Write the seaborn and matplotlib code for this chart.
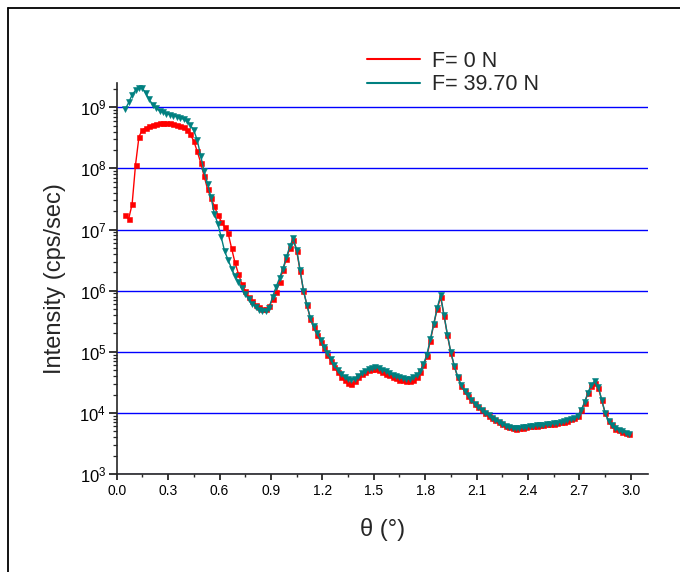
import matplotlib
matplotlib.use("Agg")
import matplotlib.pyplot as plt
from matplotlib.lines import Line2D
from matplotlib.ticker import LogLocator, MultipleLocator, FormatStrFormatter, NullFormatter
import pandas as pd
import seaborn as sns

# Scattering angle (degrees)
theta = [
    0.05, 0.07, 0.09, 0.11, 0.13, 0.15, 0.17, 0.19, 0.21, 0.23,
    0.25, 0.27, 0.29, 0.31, 0.33, 0.35, 0.37, 0.39, 0.41, 0.43,
    0.45, 0.47, 0.49, 0.51, 0.53, 0.55, 0.57, 0.59, 0.61, 0.63,
    0.65, 0.67, 0.69, 0.71, 0.73, 0.75, 0.77, 0.79, 0.81, 0.83,
    0.85, 0.87, 0.89, 0.91, 0.93, 0.95, 0.97, 0.99, 1.01, 1.03,
    1.05, 1.07, 1.09, 1.11, 1.13, 1.15, 1.17, 1.19, 1.21, 1.23,
    1.25, 1.27, 1.29, 1.31, 1.33, 1.35, 1.37, 1.39, 1.41, 1.43,
    1.45, 1.47, 1.49, 1.51, 1.53, 1.55, 1.57, 1.59, 1.61, 1.63,
    1.65, 1.67, 1.69, 1.71, 1.73, 1.75, 1.77, 1.79, 1.81, 1.83,
    1.85, 1.87, 1.89, 1.91, 1.93, 1.95, 1.97, 1.99, 2.01, 2.03,
    2.05, 2.07, 2.09, 2.11, 2.13, 2.15, 2.17, 2.19, 2.21, 2.23,
    2.25, 2.27, 2.29, 2.31, 2.33, 2.35, 2.37, 2.39, 2.41, 2.43,
    2.45, 2.47, 2.49, 2.51, 2.53, 2.55, 2.57, 2.59, 2.61, 2.63,
    2.65, 2.67, 2.69, 2.71, 2.73, 2.75, 2.77, 2.79, 2.81, 2.83,
    2.85, 2.87, 2.89, 2.91, 2.93, 2.95, 2.97, 2.99,
]

# Reflected intensity without load (cps/sec)
intensity_0N = [
    1.7e7, 1.5e7, 2.6e7, 1.15e8, 3.3e8, 4.3e8, 4.6e8, 4.9e8, 5.2e8, 5.4e8,
    5.5e8, 5.6e8, 5.55e8, 5.5e8, 5.35e8, 5.2e8, 5.0e8, 4.7e8, 4.2e8, 3.6e8,
    2.8e8, 1.9e8, 1.25e8, 7.5e7, 4.6e7, 3.3e7, 2.4e7, 1.75e7, 1.35e7, 1.1e7,
    8.8e6, 5.0e6, 2.9e6, 1.9e6, 1.3e6, 1.0e6, 7.8e5, 6.7e5, 5.9e5, 5.4e5,
    5.1e5, 5.0e5, 5.6e5, 7.2e5, 9.5e5, 1.4e6, 2.2e6, 3.3e6, 5.0e6, 6.8e6,
    4.5e6, 2.1e6, 1.0e6, 5.8e5, 3.5e5, 2.5e5, 1.9e5, 1.45e5, 1.15e5, 9.0e4,
    7.0e4, 5.6e4, 4.6e4, 3.9e4, 3.4e4, 3.1e4, 3.0e4, 3.3e4, 3.8e4, 4.3e4,
    4.7e4, 5.0e4, 5.2e4, 5.2e4, 5.0e4, 4.7e4, 4.4e4, 4.1e4, 3.9e4, 3.7e4,
    3.5e4, 3.4e4, 3.3e4, 3.3e4, 3.5e4, 3.9e4, 4.6e4, 6.0e4, 8.5e4, 1.5e5,
    2.8e5, 5.0e5, 7.8e5, 3.9e5, 1.85e5, 9.5e4, 5.8e4, 3.8e4, 2.8e4, 2.25e4,
    1.9e4, 1.62e4, 1.4e4, 1.25e4, 1.12e4, 1.0e4, 9.0e3, 8.4e3, 7.7e3, 7.1e3,
    6.6e3, 6.2e3, 5.9e3, 5.7e3, 5.55e3, 5.6e3, 5.75e3, 5.9e3, 6.0e3, 6.1e3,
    6.2e3, 6.3e3, 6.4e3, 6.5e3, 6.6e3, 6.7e3, 6.85e3, 7.0e3, 7.2e3, 7.5e3,
    7.9e3, 8.3e3, 8.9e3, 1.1e4, 1.45e4, 2.1e4, 2.8e4, 3.1e4, 2.6e4, 1.6e4,
    1.0e4, 7.4e3, 6.3e3, 5.5e3, 5.2e3, 4.95e3, 4.7e3, 4.5e3,
]

# Reflected intensity under 39.70 N load (cps/sec)
intensity_39N = [
    9.3e8, 1.2e9, 1.6e9, 1.9e9, 2.1e9, 2.05e9, 1.7e9, 1.35e9, 1.1e9, 9.6e8,
    8.8e8, 8.3e8, 7.9e8, 7.6e8, 7.3e8, 7.0e8, 6.7e8, 6.4e8, 5.9e8, 5.1e8,
    4.2e8, 2.9e8, 1.6e8, 9.0e7, 5.6e7, 3.4e7, 1.8e7, 1.25e7, 7.5e6, 4.4e6,
    3.2e6, 2.3e6, 1.75e6, 1.4e6, 1.1e6, 8.8e5, 7.3e5, 6.1e5, 5.4e5, 4.9e5,
    4.7e5, 4.7e5, 5.3e5, 8.0e5, 1.15e6, 1.6e6, 2.3e6, 3.5e6, 5.3e6, 7.2e6,
    4.7e6, 2.2e6, 1.0e6, 5.8e5, 3.6e5, 2.6e5, 2.0e5, 1.55e5, 1.2e5, 9.5e4,
    7.5e4, 6.0e4, 5.0e4, 4.3e4, 3.8e4, 3.6e4, 3.5e4, 3.6e4, 4.0e4, 4.5e4,
    4.9e4, 5.3e4, 5.5e4, 5.6e4, 5.4e4, 5.1e4, 4.8e4, 4.5e4, 4.2e4, 4.0e4,
    3.8e4, 3.7e4, 3.6e4, 3.6e4, 3.8e4, 4.1e4, 4.8e4, 6.3e4, 9.0e4, 1.6e5,
    2.9e5, 5.2e5, 8.4e5, 4.0e5, 1.9e5, 9.8e4, 5.9e4, 3.9e4, 2.9e4, 2.3e4,
    1.95e4, 1.65e4, 1.42e4, 1.26e4, 1.13e4, 1.01e4, 9.1e3, 8.4e3, 7.7e3, 7.1e3,
    6.6e3, 6.2e3, 5.9e3, 5.7e3, 5.6e3, 5.65e3, 5.8e3, 5.95e3, 6.05e3, 6.15e3,
    6.25e3, 6.35e3, 6.45e3, 6.55e3, 6.65e3, 6.75e3, 6.9e3, 7.05e3, 7.3e3, 7.6e3,
    8.0e3, 8.4e3, 9.0e3, 1.1e4, 1.5e4, 2.15e4, 2.9e4, 3.3e4, 2.7e4, 1.65e4,
    1.0e4, 7.5e3, 6.3e3, 5.6e3, 5.25e3, 5.0e3, 4.75e3, 4.55e3,
]

series_labels = ["F= 0 N", "F= 39.70 N"]
series_colors = ["#FF0000", "#008080"]
series_markers = ["s", "v"]
series_msizes = [3.6, 5.0]

sns.set_style("ticks")
plt.rcParams["font.family"] = ["Liberation Sans", "DejaVu Sans"]
plt.rcParams["mathtext.fontset"] = "custom"
plt.rcParams["mathtext.rm"] = "Liberation Sans"
plt.rcParams["mathtext.it"] = "Liberation Sans:italic"
plt.rcParams["axes.linewidth"] = 1.2

fig = plt.figure(figsize=(6.8, 5.72), dpi=100)
ax = fig.add_axes([0.1716, 0.1713, 0.7813, 0.6836])
ax.set_yscale("log")

for label, values, color, marker, ms in zip(
    series_labels, [intensity_0N, intensity_39N],
    series_colors, series_markers, series_msizes,
):
    frame = pd.DataFrame({"theta": theta, "intensity": values})
    sns.lineplot(
        data=frame, x="theta", y="intensity", ax=ax,
        color=color, linewidth=1.0, marker=marker, markersize=ms,
        markeredgewidth=0.4, markeredgecolor=color,
        estimator=None, errorbar=None, legend=False,
    )

ax.set_xlim(0.0, 3.1)
ax.set_ylim(1e3, 2.5e9)

ax.xaxis.set_major_locator(MultipleLocator(0.3))
ax.xaxis.set_minor_locator(MultipleLocator(0.15))
ax.xaxis.set_major_formatter(FormatStrFormatter("%.1f"))
ax.yaxis.set_major_locator(LogLocator(base=10, numticks=12))
ax.yaxis.set_minor_locator(LogLocator(base=10, subs=[2, 3, 4, 5, 6, 7, 8, 9], numticks=12))
ax.yaxis.set_minor_formatter(NullFormatter())

ax.yaxis.grid(True, which="major", color="#0000FF", linewidth=1.0)
ax.xaxis.grid(False)
ax.set_axisbelow(True)
ax.spines["top"].set_visible(False)
ax.spines["right"].set_visible(False)

ax.tick_params(axis="x", which="major", direction="out", length=4.5, width=1.1,
               labelsize=10, pad=3, colors="black")
ax.tick_params(axis="x", which="minor", direction="out", length=2.5, width=1.0)
ax.tick_params(axis="y", which="major", direction="out", length=6, width=1.1,
               labelsize=12, pad=1.5, colors="black")
ax.tick_params(axis="y", which="minor", direction="out", length=3, width=0.9)

ax.set_xlabel("θ (°)", fontsize=17, labelpad=14)
ax.set_ylabel("Intensity (cps/sec)", fontsize=17, labelpad=10)

handles = [Line2D([], [], color=c, linewidth=1.5) for c in series_colors]
ax.legend(handles, series_labels, loc="upper left",
          bbox_to_anchor=(367 / 680, 1 - 51 / 572), bbox_transform=fig.transFigure,
          frameon=False, fontsize=15.5, handlelength=2.45, handletextpad=0.58,
          labelspacing=0.1, borderpad=0, borderaxespad=0)

# Outer frame: left and top edges
fig.add_artist(Line2D([8 / 680, 8 / 680], [0, 1 - 7.5 / 572],
                      transform=fig.transFigure, color="black", linewidth=1.3))
fig.add_artist(Line2D([8 / 680, 1], [1 - 7.5 / 572, 1 - 7.5 / 572],
                      transform=fig.transFigure, color="black", linewidth=1.3))

fig.savefig("out.png", dpi=100)
